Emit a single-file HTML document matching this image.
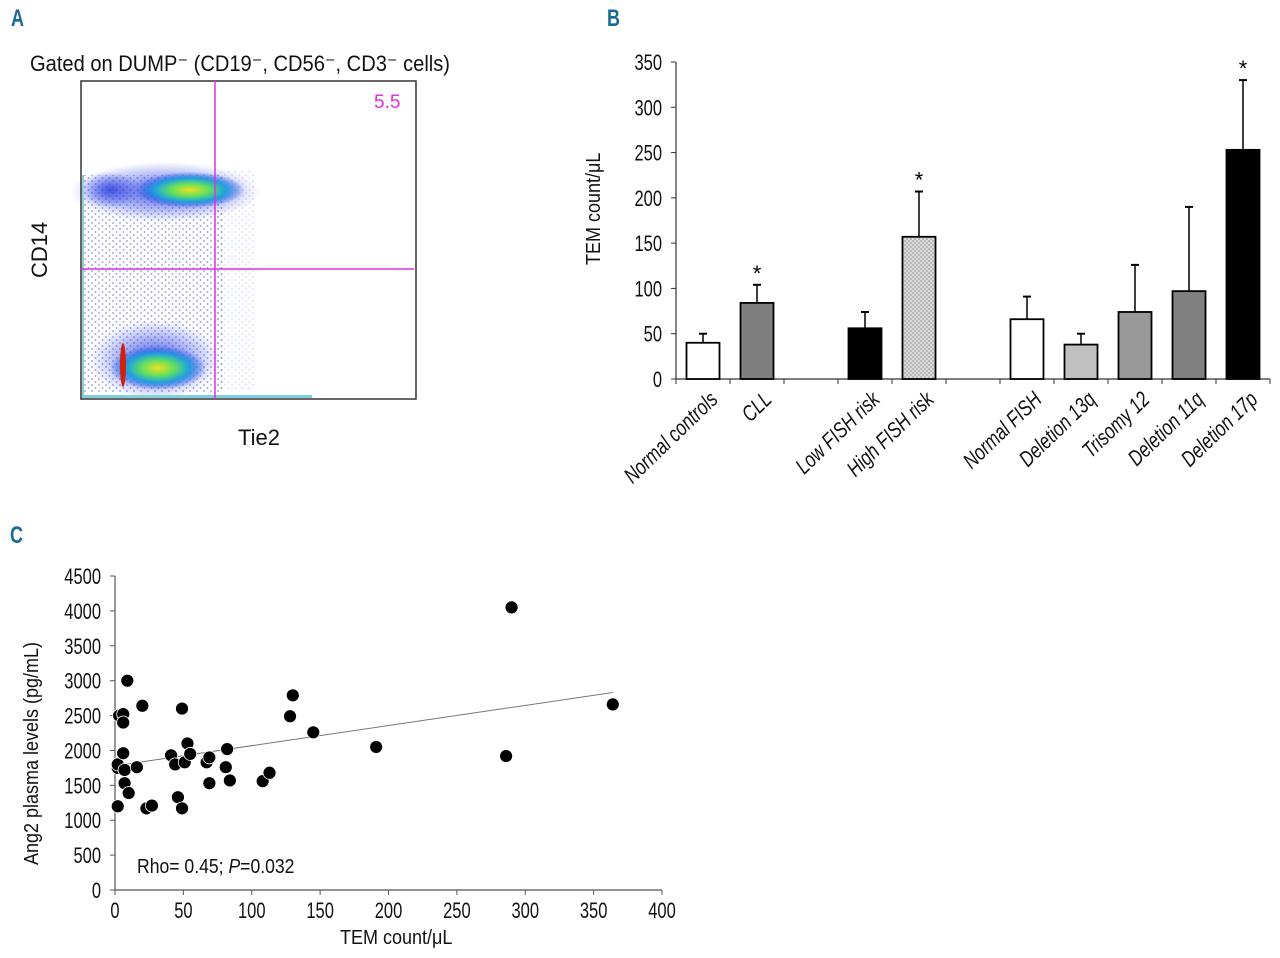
<!DOCTYPE html>
<html><head><meta charset="utf-8">
<style>
html,body{margin:0;padding:0;background:#fff;}
body{width:1280px;height:953px;overflow:hidden;font-family:"Liberation Sans",sans-serif;}
svg text{font-family:"Liberation Sans",sans-serif;}
</style></head>
<body>
<svg id="fig" width="1280" height="953" viewBox="0 0 1280 953" xmlns="http://www.w3.org/2000/svg">
<defs>
<radialGradient id="g1"><stop offset="0" stop-color="#f0e020"/><stop offset="0.35" stop-color="#60e060"/><stop offset="0.65" stop-color="#20a0e0"/><stop offset="1" stop-color="#2040e0" stop-opacity="0"/></radialGradient>
<radialGradient id="gb"><stop offset="0" stop-color="#2a3ee0" stop-opacity="0.85"/><stop offset="1" stop-color="#2a3ee0" stop-opacity="0"/></radialGradient>
<pattern id="dots" width="4" height="4" patternUnits="userSpaceOnUse"><rect width="4" height="4" fill="#ddd"/><circle cx="1" cy="1" r="0.8" fill="#888"/><circle cx="3" cy="3" r="0.8" fill="#888"/></pattern>
<pattern id="speck" width="7" height="6" patternUnits="userSpaceOnUse"><circle cx="1" cy="1" r="0.9" fill="#2a3ee0"/><circle cx="4.5" cy="4" r="0.9" fill="#2a3ee0"/></pattern>
</defs>

<!-- Panel A -->
<g>
<text x="0" y="0" font-size="24" font-weight="bold" fill="#1a6a96" transform="translate(11,26) scale(0.75,1)">A</text>
<text x="30" y="71" font-size="22" fill="#111" textLength="420" lengthAdjust="spacingAndGlyphs">Gated on DUMP⁻ (CD19⁻, CD56⁻, CD3⁻ cells)</text>
<g>
<rect x="81" y="81" width="335" height="318" fill="#fff" stroke="#333" stroke-width="1.5"/>
<rect x="84" y="175" width="140" height="218" fill="url(#speck)" opacity="0.55"/>
<rect x="215" y="170" width="40" height="220" fill="url(#speck)" opacity="0.2"/>
<ellipse cx="165" cy="192" rx="95" ry="30" fill="url(#gb)"/>
<ellipse cx="190" cy="190" rx="55" ry="18" fill="url(#g1)"/>
<ellipse cx="110" cy="190" rx="30" ry="18" fill="url(#gb)"/>
<ellipse cx="155" cy="360" rx="65" ry="40" fill="url(#gb)"/>
<ellipse cx="158" cy="368" rx="48" ry="22" fill="url(#g1)"/>
<ellipse cx="123" cy="365" rx="3" ry="22" fill="#d02010"/>
<rect x="82" y="395" width="230" height="3" fill="#80d0e0"/>
<rect x="82" y="175" width="2" height="220" fill="#90d0d0"/>
<line x1="215" y1="81" x2="215" y2="399" stroke="#e030e0" stroke-width="1.5"/>
<line x1="81" y1="269" x2="414" y2="269" stroke="#e030e0" stroke-width="1.5"/>
<text x="374" y="108" font-size="19" fill="#e030e0">5.5</text>
</g>
<text x="0" y="0" font-size="22" fill="#111" transform="translate(47,278) rotate(-90)">CD14</text>
<text x="238" y="445" font-size="22" fill="#111">Tie2</text>
</g>

<!-- Panel B -->
<g id="panelB">
<text x="0" y="0" font-size="24" font-weight="bold" fill="#1a6a96" transform="translate(607,26) scale(0.75,1)">B</text>
<text x="0" y="0" font-size="20" fill="#111" transform="translate(600,265) rotate(-90) scale(0.9,1)">TEM count/μL</text>
</g>

<!-- Panel C -->
<g id="panelC">
<text x="0" y="0" font-size="24" font-weight="bold" fill="#1a6a96" transform="translate(10,543) scale(0.75,1)">C</text>
<text x="0" y="0" font-size="20" fill="#111" transform="translate(38,865) rotate(-90) scale(0.9,1)">Ang2 plasma levels (pg/mL)</text>
<text x="0" y="0" font-size="20" fill="#111" transform="translate(340,944) scale(0.9,1)">TEM count/μL</text>
<text x="0" y="0" font-size="20" fill="#111" transform="translate(137,873) scale(0.88,1)">Rho= 0.45; <tspan font-style="italic">P</tspan>=0.032</text>
</g>
</svg>

<script>
const NS="http://www.w3.org/2000/svg";
function mk(tag,attrs,parent){const e=document.createElementNS(NS,tag);for(const k in attrs)e.setAttribute(k,attrs[k]);parent.appendChild(e);return e;}

// ---- Panel B data ----
const bCategories=["Normal controls","CLL","Low FISH risk","High FISH risk","Normal FISH","Deletion 13q","Trisomy 12","Deletion 11q","Deletion 17p"];
const bSlots=[0,1,3,4,6,7,8,9,10];
const bMeans=[40,84,56,157,66,38,74,97,253];
const bErrors=[10,20,18,50,25,12,52,93,77];
const bSignificant=[false,true,false,true,false,false,false,false,true];
const bFills=["#fff","#7f7f7f","#000","url(#dots)","#fff","#c0c0c0","#999","#808080","#000"];
const bTicks=[0,50,100,150,200,250,300,350];

// ---- Panel C data ----
const cX=[2,2,2,3,6,6,6,7,7,9,10,16,20,23,27,41,44,46,49,49,51,53,55,67,69,69,81,82,84,108,113,128,130,145,191,286,290,364];
const cY=[1200,1750,1800,2500,2520,2400,1960,1720,1530,3000,1390,1760,2640,1170,1210,1930,1800,1330,2600,1170,1830,2100,1950,1830,1900,1530,1760,2020,1570,1560,1680,2490,2790,2260,2050,1920,4050,2660];
const cXTicks=[0,50,100,150,200,250,300,350,400];
const cYTicks=[0,500,1000,1500,2000,2500,3000,3500,4000,4500];
const cTrend=[1780,2830];
const cTrendX=[0,364];

// Panel B
(function(){
const g=document.getElementById('panelB');
const x0=676,x1=1270,y0=379,yTop=62,nSlots=11;
const slotW=(x1-x0)/nSlots;
const ys=v=>y0-(v/350)*(y0-yTop);
const xc=i=>x0+slotW*(i+0.5);
const ax=mk('line',{x1:x0,y1:yTop,x2:x0,y2:y0,stroke:'#333','stroke-width':1.2},g);


const bx=mk('line',{x1:x0,y1:y0,x2:x1,y2:y0,stroke:'#333','stroke-width':1.2},g);


for(let i=0;i<=nSlots;i++){const t=mk('line',{x1:x0+slotW*i,y1:y0,x2:x0+slotW*i,y2:y0+5,stroke:'#333'},g);

}
bTicks.forEach(v=>{const y=ys(v);
const t=mk('line',{x1:x0-5,y1:y,x2:x0,y2:y,stroke:'#333'},g);


const l=mk('text',{'font-size':22,'text-anchor':'end',fill:'#111',transform:`translate(${x0-14},${y+8}) scale(0.75,1)`},g);
l.textContent=v;

});
const bw=33;
bMeans.forEach((m,i)=>{const cx=xc(bSlots[i]);
const e=bErrors[i];
const el=mk('line',{x1:cx,y1:ys(m),x2:cx,y2:ys(m+e),stroke:'#000','stroke-width':1.5},g);


const cap=mk('line',{x1:cx-4,y1:ys(m+e),x2:cx+4,y2:ys(m+e),stroke:'#000','stroke-width':2},g);


const r=mk('rect',{x:cx-bw/2,y:ys(m),width:bw,height:ys(0)-ys(m),fill:bFills[i],stroke:'#000','stroke-width':1.8},g);


if(bSignificant[i]){const s=mk('text',{x:cx,y:ys(m+e)-4,'font-size':22,'text-anchor':'middle',fill:'#000'},g);s.textContent='*';

}
const lab=mk('text',{'font-size':22,'font-style':'italic','text-anchor':'end',fill:'#111',transform:`translate(${cx+16},${y0+22}) rotate(-44) scale(0.78,1)`},g);
lab.textContent=bCategories[i];

});
})();

// Panel C
(function(){
const g=document.getElementById('panelC');
const x0=115,x1=662,y0=890,yTop=576;
const xs=v=>x0+v/400*(x1-x0);
const ys=v=>y0-v/4500*(y0-yTop);
const a=mk('line',{x1:x0,y1:yTop,x2:x0,y2:y0,stroke:'#555','stroke-width':1.2},g);


const b=mk('line',{x1:x0,y1:y0,x2:x1,y2:y0,stroke:'#555','stroke-width':1.2},g);


cYTicks.forEach(v=>{const y=ys(v);
const t=mk('line',{x1:x0-5,y1:y,x2:x0,y2:y,stroke:'#555'},g);


const l=mk('text',{'font-size':22,'text-anchor':'end',fill:'#111',transform:`translate(${x0-14},${y+8}) scale(0.75,1)`},g);
l.textContent=v;

});
cXTicks.forEach(v=>{const x=xs(v);
const t=mk('line',{x1:x,y1:y0,x2:x,y2:y0+5,stroke:'#555'},g);


const l=mk('text',{'font-size':22,'text-anchor':'middle',fill:'#111',transform:`translate(${x},${y0+28}) scale(0.75,1)`},g);
l.textContent=v;

});
const tl=mk('line',{x1:xs(cTrendX[0]),y1:ys(cTrend[0]),x2:xs(cTrendX[1]),y2:ys(cTrend[1]),stroke:'#777','stroke-width':1},g);


cX.forEach((v,i)=>{const c=mk('circle',{cx:xs(v),cy:ys(cY[i]),r:6.5,fill:'#000',stroke:'#fff','stroke-width':0.8},g);

});
})();
</script>
</body></html>
